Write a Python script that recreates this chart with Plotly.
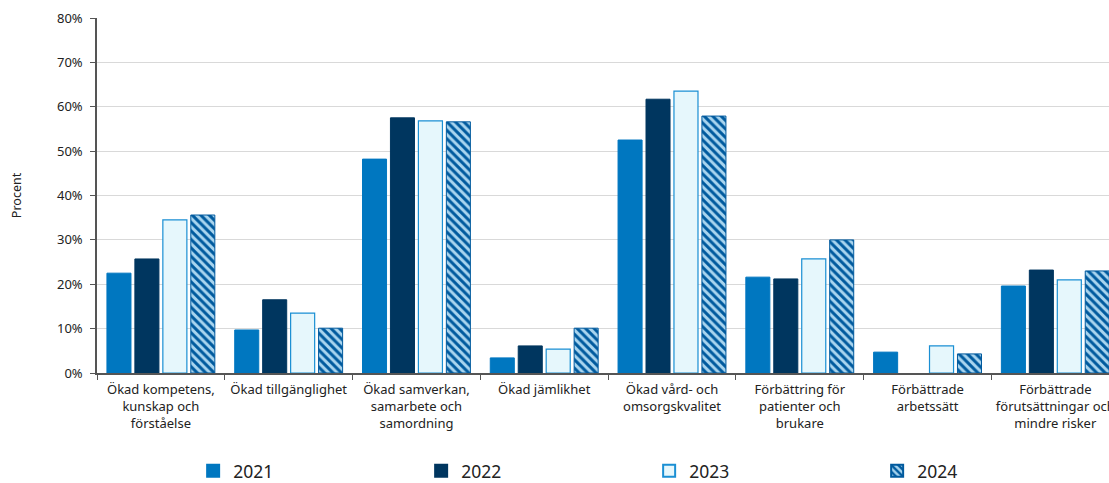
import plotly.graph_objects as go

categories = [
    "Ökad kompetens,<br>kunskap och<br>förståelse",
    "Ökad tillgänglighet",
    "Ökad samverkan,<br>samarbete och<br>samordning",
    "Ökad jämlikhet",
    "Ökad vård- och<br>omsorgskvalitet",
    "Förbättring för<br>patienter och<br>brukare",
    "Förbättrade<br>arbetssätt",
    "Förbättrade<br>förutsättningar och<br>mindre risker",
]
v2021 = [0.225, 0.097, 0.482, 0.034, 0.525, 0.216, 0.047, 0.196]
v2022 = [0.257, 0.165, 0.575, 0.061, 0.617, 0.212, None, 0.232]
v2023 = [0.345, 0.135, 0.568, 0.054, 0.635, 0.257, 0.061, 0.210]
v2024 = [0.356, 0.101, 0.566, 0.101, 0.579, 0.300, 0.043, 0.230]

fig = go.Figure()
fig.add_bar(name="2021", x=categories, y=v2021,
            marker=dict(color="#0077c0", line=dict(color="#0077c0", width=1)))
fig.add_bar(name="2022", x=categories, y=v2022,
            marker=dict(color="#00365f", line=dict(color="#00365f", width=1)))
fig.add_bar(name="2023", x=categories, y=v2023,
            marker=dict(color="#e6f7fc", line=dict(color="#1a8fd3", width=1.2)))
fig.add_bar(name="2024", x=categories, y=v2024,
            marker=dict(color="#a9d5ef", line=dict(color="#005a9e", width=1),
                        pattern=dict(shape="\\", fgcolor="#005a9e", bgcolor="#a9d5ef",
                                     size=6, solidity=0.5, fillmode="replace")))

fig.update_layout(
    width=1109, height=483,
    margin=dict(l=97, r=0, t=18, b=110, autoexpand=False),
    paper_bgcolor="white", plot_bgcolor="white",
    font=dict(family="Noto Sans", size=13, color="#222222"),
    barmode="group", bargap=0.125, bargroupgap=0.14,
    showlegend=True,
    legend=dict(orientation="h", x=0.095, xanchor="left", y=-0.225, yanchor="top",
                entrywidth=183, entrywidthmode="pixels",
                font=dict(size=17.5, color="#222222"), itemsizing="constant"),
    xaxis=dict(range=[-0.5, 7.42], showline=True, linecolor="#555555", linewidth=1.5,
               ticks="outside", tickson="boundaries", ticklen=5, tickcolor="#555555",
               tickangle=0, tickfont=dict(size=13), automargin=False,
               ticklabelstandoff=4),
    yaxis=dict(range=[0, 0.8], dtick=0.1, tickformat=".0%", showgrid=True,
               gridcolor="#d9d9d9", gridwidth=1, showline=True, linecolor="#555555",
               linewidth=1.5, ticks="outside", ticklen=5, tickcolor="#555555",
               zeroline=False, automargin=False, ticklabelstandoff=5,
               title=dict(text="Procent", font=dict(size=12.5), standoff=33),
               tickfont=dict(size=13)),
)

fig.write_html("out.html")
